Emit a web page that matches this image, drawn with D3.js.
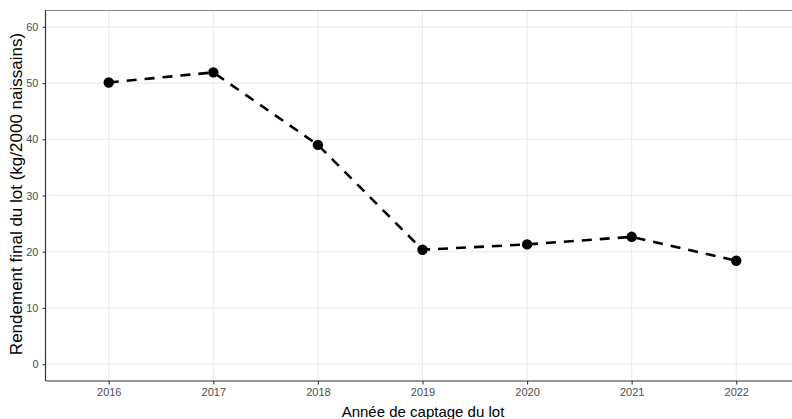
<!DOCTYPE html>
<html><head><meta charset="utf-8">
<script src="https://cdn.jsdelivr.net/npm/d3@7"></script>
<style>body{margin:0;background:#fff}svg{display:block}</style>
</head><body>
<script>
const years = [2016, 2017, 2018, 2019, 2020, 2021, 2022];
const rendement = [50.1, 51.9, 39.0, 20.35, 21.3, 22.65, 18.4];
const yTicks = [0, 10, 20, 30, 40, 50, 60];
const xLabel = "Année de captage du lot";
const yLabel = "Rendement final du lot (kg/2000 naissains)";

const W = 792, H = 419;
const m = {left: 46, top: 10, right: 799, bottom: 381};
const svg = d3.select("body").append("svg").attr("width", W).attr("height", H)
  .style("font-family", "'Liberation Sans', Arial, sans-serif");

const x = d3.scaleLinear().domain([2015.4, 2022.6]).range([m.left, m.right]);
const y = d3.scaleLinear().domain([-3, 63]).range([m.bottom, m.top]);

const g = svg.append("g");
// grid
g.selectAll(".gy").data(yTicks).join("line")
  .attr("x1", m.left).attr("x2", m.right)
  .attr("y1", d => y(d)).attr("y2", d => y(d))
  .attr("stroke", "#ebebeb").attr("stroke-width", 1.1);
g.selectAll(".gx").data(years).join("line")
  .attr("y1", m.top).attr("y2", m.bottom)
  .attr("x1", d => x(d)).attr("x2", d => x(d))
  .attr("stroke", "#ebebeb").attr("stroke-width", 1.1);

// top border
svg.append("line").attr("x1", m.left).attr("x2", m.right).attr("y1", m.top + 0.5).attr("y2", m.top + 0.5)
  .attr("stroke", "#888").attr("stroke-width", 1.1);

// axes
const xAxis = d3.axisBottom(x).tickValues(years).tickFormat(d3.format("d")).tickSize(3.5).tickPadding(4);
const yAxis = d3.axisLeft(y).tickValues(yTicks).tickSize(3.5).tickPadding(4);
const gx = svg.append("g").attr("transform", `translate(0,${m.bottom})`).call(xAxis);
const gy = svg.append("g").attr("transform", `translate(${m.left},0)`).call(yAxis);
[gx, gy].forEach(a => {
  a.select(".domain").attr("stroke", "#333").attr("stroke-width", 1.2);
  a.selectAll(".tick line").attr("stroke", "#333").attr("stroke-width", 1.1);
  a.selectAll(".tick text").attr("fill", "#4d4d4d").style("font-size", "11px")
    .style("font-family", "'Liberation Sans', Arial, sans-serif");
});
gy.select(".domain").attr("d", `M-0.5,${m.bottom}V${m.top}`);
gx.select(".domain").attr("d", `M${m.left},0H${m.right}`);

// line
const data = years.map((yr, i) => ({yr, v: rendement[i]}));
svg.append("path").datum(data)
  .attr("fill", "none").attr("stroke", "#000").attr("stroke-width", 2.6)
  .attr("stroke-dasharray", "10,8")
  .attr("d", d3.line().x(d => x(d.yr)).y(d => y(d.v)));
svg.selectAll(".pt").data(data).join("circle")
  .attr("cx", d => x(d.yr)).attr("cy", d => y(d.v)).attr("r", 5.2).attr("fill", "#000");

// titles
svg.append("text").attr("x", 423).attr("y", 417)
  .attr("text-anchor", "middle").style("font-size", "15px").attr("fill", "#000").text(xLabel);
svg.append("text").attr("transform", `translate(22,194) rotate(-90)`)
  .attr("text-anchor", "middle").style("font-size", "17px").attr("fill", "#000").text(yLabel);
</script>
</body></html>
